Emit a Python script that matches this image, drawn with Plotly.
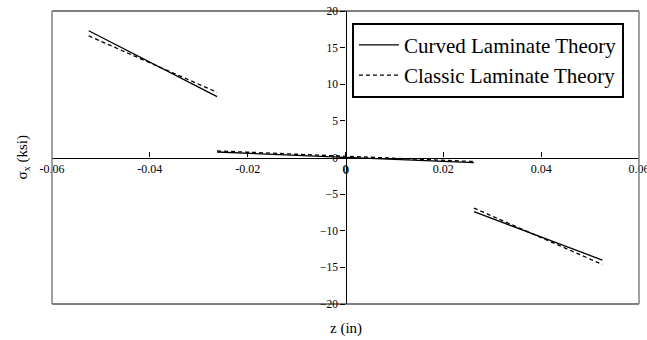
import plotly.graph_objects as go

# Data
z_in = [-0.0525, -0.02625, None, -0.02625, 0.02625, None, 0.02625, 0.0525]
sigma_curved = [17.3, 8.3, None, 0.75, -0.7, None, -7.4, -14.0]
sigma_classic = [16.6, 8.9, None, 0.9, -0.55, None, -6.9, -14.6]
x_ticks = [-0.06, -0.04, -0.02, 0, 0.02, 0.04, 0.06]
x_tick_labels = ["-0.06", "-0.04", "-0.02", "0", "0.02", "0.04", "0.06"]
y_ticks = [-20, -15, -10, -5, 0, 5, 10, 15, 20]

FONT = "Liberation Serif"

fig = go.Figure()
fig.add_trace(go.Scatter(
    x=z_in, y=sigma_curved, mode="lines", name="Curved Laminate Theory",
    line=dict(color="black", width=1.3), connectgaps=False))
fig.add_trace(go.Scatter(
    x=z_in, y=sigma_classic, mode="lines", name="Classic Laminate Theory",
    line=dict(color="black", width=1.3, dash="4px,3px"), connectgaps=False))

fig.update_layout(
    width=647, height=340,
    margin=dict(l=52, r=8, t=11, b=36, autoexpand=False),
    paper_bgcolor="white", plot_bgcolor="white",
    font=dict(family=FONT, color="black", size=12),
    xaxis=dict(
        range=[-0.06, 0.06], tickvals=x_ticks, ticktext=x_tick_labels,
        anchor="free", position=0.5, showline=True, linecolor="black", linewidth=1.3,
        ticks="inside", ticklen=5, tickcolor="black", showgrid=False, zeroline=False,
        automargin=False, ticklabeloverflow="allow",
        tickfont=dict(family=FONT, size=12)),
    yaxis=dict(
        range=[-20, 20], tickvals=y_ticks,
        anchor="free", position=0.5, showline=True, linecolor="black", linewidth=1.3,
        ticks="outside", ticklen=5, tickcolor="black", showgrid=False, zeroline=False,
        automargin=False, ticklabeloverflow="allow",
        tickfont=dict(family=FONT, size=11.5)),
    legend=dict(
        x=0.511, y=0.96, xanchor="left", yanchor="top",
        bordercolor="black", borderwidth=2, bgcolor="white",
        font=dict(family=FONT, size=21), itemwidth=40, tracegroupgap=0),
    showlegend=True,
)

# plot-area frame
fig.add_shape(type="line", xref="paper", yref="paper", x0=0, x1=1, y0=1, y1=1,
              line=dict(color="black", width=1))
fig.add_shape(type="line", xref="paper", yref="paper", x0=0, x1=1, y0=0, y1=0,
              line=dict(color="black", width=1))
fig.add_shape(type="line", xref="paper", yref="paper", x0=0, x1=0, y0=0, y1=1,
              line=dict(color="#808080", width=1.5))
fig.add_shape(type="line", xref="paper", yref="paper", x0=1, x1=1, y0=0, y1=1,
              line=dict(color="#808080", width=1.5))

# x tick label at the origin (hidden by plotly where the y axis crosses)
fig.add_annotation(text=x_tick_labels[3], x=x_ticks[3], xref="x", yref="paper",
                   y=0.5, yanchor="top", yshift=-3, showarrow=False,
                   font=dict(family=FONT, size=12))

fig.add_annotation(text="σ<sub>x</sub> (ksi)", xref="paper", yref="paper",
                   x=-0.051, y=0.5, xanchor="center", yanchor="middle",
                   textangle=-90, showarrow=False,
                   font=dict(family=FONT, size=15))
fig.add_annotation(text="z (in)", xref="paper", yref="paper",
                   x=0.5, y=-0.082, xanchor="center", yanchor="middle",
                   showarrow=False, font=dict(family=FONT, size=15))

# remove the browser's default 8px body margin so the figure fills the window
fig.write_html("out.html", config={"displayModeBar": False},
               post_script="document.body.style.margin='0';")
